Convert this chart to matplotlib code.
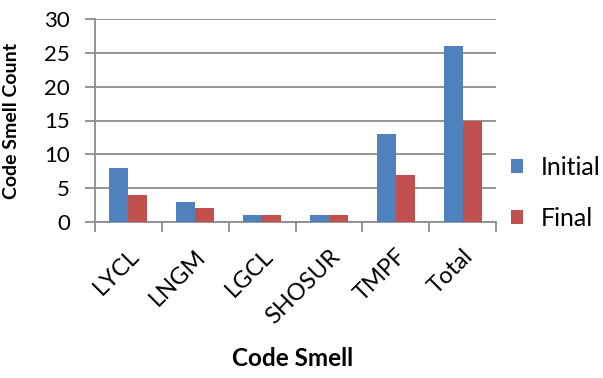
import numpy as np
import matplotlib
matplotlib.use("Agg")
import matplotlib.pyplot as plt

plt.rcParams['font.family'] = ['Lato', 'DejaVu Sans']

smells = ["LYCL", "LNGM", "LGCL", "SHOSUR", "TMPF", "Total"]
initial = [8, 3, 1, 1, 13, 26]
final = [4, 2, 1, 1, 7, 15]

blue = "#4F81BD"
red = "#C0504D"
grid_grey = "#8C8C8C"

fig = plt.figure(figsize=(6.03, 3.78), dpi=100)
ax = fig.add_axes([95 / 603, 1 - 222 / 378, (496 - 95) / 603, (222 - 19) / 378])

x = np.arange(len(smells))
w = 0.285
ax.bar(x - w / 2, initial, w, color=blue, label="Initial", zorder=3)
ax.bar(x + w / 2, final, w, color=red, label="Final", zorder=3)

ax.set_xlim(-0.5, len(smells) - 0.5)
ax.set_ylim(0, 30)
ax.set_yticks(range(0, 31, 5))
ax.yaxis.grid(True, color=grid_grey, linewidth=1.3, zorder=0)

for side in ("top", "right"):
    ax.spines[side].set_visible(False)
for side in ("left", "bottom"):
    ax.spines[side].set_color(grid_grey)
    ax.spines[side].set_linewidth(1.3)

# category boundaries as ticks on the x axis, labels in between
ax.set_xticks(np.arange(-0.5, len(smells), 1.0))
ax.set_xticklabels([])
ax.set_xticks(x, minor=True)
ax.set_xticklabels(smells, minor=True, rotation=45, ha="right", va="top",
                   rotation_mode="anchor", fontsize=17)
ax.tick_params(axis="x", which="major", length=7, color=grid_grey, width=1.3)
ax.tick_params(axis="x", which="minor", length=0, pad=17)
ax.tick_params(axis="y", length=7, color=grid_grey, width=1.3, labelsize=16, pad=11)

ax.set_ylabel("Code Smell Count", fontsize=14, fontweight="bold")
ax.yaxis.set_label_coords(-0.187, 0.5)
fig.text(293 / 603, 1 - 358 / 378, "Code Smell", fontsize=17.5, fontweight="bold",
         ha="center", va="center")

ax.legend(loc="center left", bbox_to_anchor=(1.037, 0.143), frameon=False,
          fontsize=18, handlelength=0.48, handleheight=0.48, handletextpad=0.7,
          labelspacing=1.15, borderpad=0, borderaxespad=0)

fig.savefig("out.png", dpi=100)
